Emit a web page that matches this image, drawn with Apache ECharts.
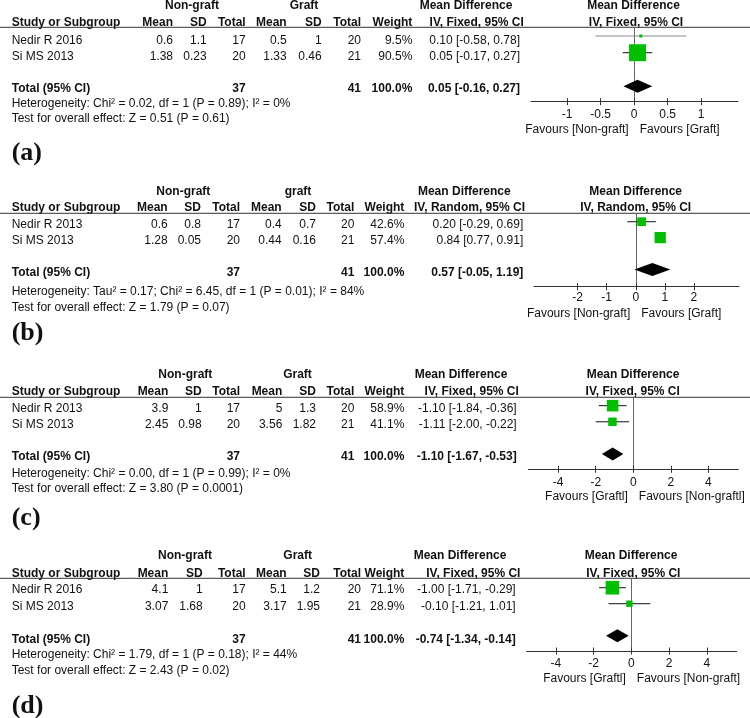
<!DOCTYPE html>
<html>
<head>
<meta charset="utf-8">
<script src="https://cdn.jsdelivr.net/npm/echarts@6/dist/echarts.min.js"></script>
<style>html,body{margin:0;padding:0;background:#fff;}#chart{width:750px;height:718px;}</style>
</head>
<body>
<div id="chart"></div>
<script>
// ---------- DATA ----------
const panelLabels = ['(a)', '(b)', '(c)', '(d)'];
const studyNames = [['Nedir R 2016', 'Si MS 2013'], ['Nedir R 2013', 'Si MS 2013'], ['Nedir R 2013', 'Si MS 2013'], ['Nedir R 2016', 'Si MS 2013']];
const groupLabels = [['Non-graft', 'Graft'], ['Non-graft', 'graft'], ['Non-graft', 'Graft'], ['Non-graft', 'Graft']];
const nonGraftMean = [['0.6', '1.38'], ['0.6', '1.28'], ['3.9', '2.45'], ['4.1', '3.07']];
const nonGraftSD = [['1.1', '0.23'], ['0.8', '0.05'], ['1', '0.98'], ['1', '1.68']];
const nonGraftTotal = [[17, 20], [17, 20], [17, 20], [17, 20]];
const graftMean = [['0.5', '1.33'], ['0.4', '0.44'], ['5', '3.56'], ['5.1', '3.17']];
const graftSD = [['1', '0.46'], ['0.7', '0.16'], ['1.3', '1.82'], ['1.2', '1.95']];
const graftTotal = [[20, 21], [20, 21], [20, 21], [20, 21]];
const weights = [[9.5, 90.5], [42.6, 57.4], [58.9, 41.1], [71.1, 28.9]];
const mdEst = [[0.10, 0.05], [0.20, 0.84], [-1.10, -1.11], [-1.00, -0.10]];
const mdLow = [[-0.58, -0.17], [-0.29, 0.77], [-1.84, -2.00], [-1.71, -1.21]];
const mdHigh = [[0.78, 0.27], [0.69, 0.91], [-0.36, -0.22], [-0.29, 1.01]];
const totalNonGraft = [37, 37, 37, 37];
const totalGraft = [41, 41, 41, 41];
const totalEst = [0.05, 0.57, -1.10, -0.74];
const totalLow = [-0.16, -0.05, -1.67, -1.34];
const totalHigh = [0.27, 1.19, -0.53, -0.14];
const methods = ['IV, Fixed, 95% CI', 'IV, Random, 95% CI', 'IV, Fixed, 95% CI', 'IV, Fixed, 95% CI'];
const heterogeneity = [
  'Heterogeneity: Chi\u00b2 = 0.02, df = 1 (P = 0.89); I\u00b2 = 0%',
  'Heterogeneity: Tau\u00b2 = 0.17; Chi\u00b2 = 6.45, df = 1 (P = 0.01); I\u00b2 = 84%',
  'Heterogeneity: Chi\u00b2 = 0.00, df = 1 (P = 0.99); I\u00b2 = 0%',
  'Heterogeneity: Chi\u00b2 = 1.79, df = 1 (P = 0.18); I\u00b2 = 44%'
];
const overallTests = [
  'Test for overall effect: Z = 0.51 (P = 0.61)',
  'Test for overall effect: Z = 1.79 (P = 0.07)',
  'Test for overall effect: Z = 3.80 (P = 0.0001)',
  'Test for overall effect: Z = 2.43 (P = 0.02)'
];
const tickValues = [[-1, -0.5, 0, 0.5, 1], [-2, -1, 0, 1, 2], [-4, -2, 0, 2, 4], [-4, -2, 0, 2, 4]];
const favoursLeft = ['Favours [Non-graft]', 'Favours [Non-graft]', 'Favours [Graftl]', 'Favours [Graftl]'];
const favoursRight = ['Favours [Graft]', 'Favours [Graft]', 'Favours [Non-graftl]', 'Favours [Non-graft]'];

// ---------- LAYOUT / STYLE ----------
const FONT = '"Liberation Sans", Arial, sans-serif';
const SERIF = '"Liberation Serif", "Times New Roman", serif';
const rowsY = [
  { grp: 6, hdr: 22.7, line: 27.3, rows: [40.7, 56.7], total: 88.3, het: 103.3, test: 118.3, label: 153, axis: 101.7, fav: 130 },
  { grp: 191.7, hdr: 207.3, line: 213.3, rows: [224.3, 241], total: 272.3, het: 291.7, test: 307.7, label: 333.3, axis: 286.7, fav: 313.3 },
  { grp: 375, hdr: 391.7, line: 397.3, rows: [409, 424.3], total: 456.7, het: 473.3, test: 488.3, label: 518.3, axis: 469.3, fav: 496.7 },
  { grp: 556, hdr: 573.3, line: 578.3, rows: [590, 606.7], total: 639.3, het: 655, test: 671, label: 706.7, axis: 651, fav: 678.3 }
];
const colsX = [
  { ngMean: 173, ngSD: 206.7, ngTot: 245.7, gMean: 286.7, gSD: 321.7, gTot: 361, wt: 412.3, md: 520, ngHdr: 192, gHdr: 304, mdHdr1: 466, mdHdr2: 476.7, fHdr1: 633.5, fHdr2: 636 },
  { ngMean: 167.7, ngSD: 201, ngTot: 240, gMean: 281.7, gSD: 316, gTot: 354.3, wt: 404.3, md: 523.3, ngHdr: 183.3, gHdr: 298, mdHdr1: 464.3, mdHdr2: 469.5, fHdr1: 635.7, fHdr2: 635.7 },
  { ngMean: 168.3, ngSD: 201.7, ngTot: 240, gMean: 282.3, gSD: 316, gTot: 354.3, wt: 404.3, md: 516.7, ngHdr: 185.3, gHdr: 297.5, mdHdr1: 461, mdHdr2: 471.7, fHdr1: 633, fHdr2: 632.7 },
  { ngMean: 168.3, ngSD: 202.7, ngTot: 245.7, gMean: 286.7, gSD: 320, gTot: 361, wt: 404.3, md: 515.7, ngHdr: 185, gHdr: 297.7, mdHdr1: 460, mdHdr2: 473.3, fHdr1: 631, fHdr2: 633.3 }
];
const gridCfg = [
  { left: 531, width: 207, xmin: -1.54, xmax: 1.55, ymin: 0.48, ymax: 4.93, margin: 7 },
  { left: 534, width: 205, xmin: -3.5, xmax: 3.55, ymin: 0.47, ymax: 5.09, margin: 4.6 },
  { left: 528.3, width: 210, xmin: -5.59, xmax: 5.59, ymin: 0.48, ymax: 4.95, margin: 7 },
  { left: 526.7, width: 210, xmin: -5.54, xmax: 5.58, ymin: 0.41, ymax: 4.96, margin: 7 }
];
const ciColors = [['#8a8a8a', '#111'], ['#111', '#111'], ['#111', '#111'], ['#111', '#111']];
const SQUARE = '#00bf00';

// ---------- BUILD ----------
const chart = echarts.init(document.getElementById('chart'));
const grids = [], xAxes = [], yAxes = [], series = [], graphics = [];

function txt(x, y, text, align, bold, size, family) {
  graphics.push({
    type: 'text', x: x, y: y, silent: true,
    style: {
      text: String(text), textAlign: align || 'left', textVerticalAlign: 'middle',
      font: (bold ? 'bold ' : '') + (size || 12) + 'px ' + (family || FONT), fill: '#111'
    }
  });
}
function fmtCI(e, l, h) { return e.toFixed(2) + ' [' + l.toFixed(2) + ', ' + h.toFixed(2) + ']'; }

panelLabels.forEach(function (lab, p) {
  const R = rowsY[p], C = colsX[p], G = gridCfg[p];
  // header texts
  txt(C.ngHdr, R.grp, groupLabels[p][0], 'center', true);
  txt(C.gHdr, R.grp, groupLabels[p][1], 'center', true);
  txt(C.mdHdr1, R.grp, 'Mean Difference', 'center', true);
  txt(C.fHdr1, R.grp, 'Mean Difference', 'center', true);
  txt(11.7, R.hdr, 'Study or Subgroup', 'left', true);
  txt(C.ngMean, R.hdr, 'Mean', 'right', true);
  txt(C.ngSD, R.hdr, 'SD', 'right', true);
  txt(C.ngTot, R.hdr, 'Total', 'right', true);
  txt(C.gMean, R.hdr, 'Mean', 'right', true);
  txt(C.gSD, R.hdr, 'SD', 'right', true);
  txt(C.gTot, R.hdr, 'Total', 'right', true);
  txt(C.wt, R.hdr, 'Weight', 'right', true);
  txt(C.mdHdr2, R.hdr, methods[p], 'center', true);
  txt(C.fHdr2, R.hdr, methods[p], 'center', true);
  graphics.push({ type: 'line', silent: true, shape: { x1: 0, y1: R.line, x2: 750, y2: R.line }, style: { stroke: '#333', lineWidth: 1 } });
  // study rows
  studyNames[p].forEach(function (s, i) {
    const y = R.rows[i];
    txt(11.7, y, s, 'left');
    txt(C.ngMean, y, nonGraftMean[p][i], 'right');
    txt(C.ngSD, y, nonGraftSD[p][i], 'right');
    txt(C.ngTot, y, nonGraftTotal[p][i], 'right');
    txt(C.gMean, y, graftMean[p][i], 'right');
    txt(C.gSD, y, graftSD[p][i], 'right');
    txt(C.gTot, y, graftTotal[p][i], 'right');
    txt(C.wt, y, weights[p][i].toFixed(1) + '%', 'right');
    txt(C.md, y, fmtCI(mdEst[p][i], mdLow[p][i], mdHigh[p][i]), 'right');
  });
  // total row
  txt(11.7, R.total, 'Total (95% CI)', 'left', true);
  txt(C.ngTot, R.total, totalNonGraft[p], 'right', true);
  txt(C.gTot, R.total, totalGraft[p], 'right', true);
  txt(C.wt, R.total, '100.0%', 'right', true);
  txt(C.md, R.total, fmtCI(totalEst[p], totalLow[p], totalHigh[p]), 'right', true);
  txt(11.7, R.het, heterogeneity[p], 'left');
  txt(11.7, R.test, overallTests[p], 'left');
  txt(11.7, R.label, lab, 'left', true, 26, SERIF);

  // forest grid
  grids.push({ left: G.left, width: G.width, top: R.line, height: R.axis - R.line, containLabel: false });
  xAxes.push({
    type: 'value', gridIndex: p, min: G.xmin, max: G.xmax, position: 'bottom',
    axisLine: { show: true, onZero: false, lineStyle: { color: '#333', width: 1 } },
    axisTick: { show: true, inside: false, length: 3.5, customValues: tickValues[p], lineStyle: { color: '#333' } },
    axisLabel: { show: true, customValues: tickValues[p], margin: G.margin, color: '#111', fontSize: 12, fontFamily: FONT },
    splitLine: { show: false }
  });
  xAxes.push({
    type: 'value', gridIndex: p, min: G.xmin, max: G.xmax, position: 'bottom',
    axisLine: { show: false, onZero: false },
    axisTick: { show: true, inside: true, length: 3.5, customValues: tickValues[p], lineStyle: { color: '#333' } },
    axisLabel: { show: false }, splitLine: { show: false }
  });
  yAxes.push({
    type: 'value', gridIndex: p, min: G.ymin, max: G.ymax, inverse: true,
    axisLine: { show: true, onZero: true, lineStyle: { color: '#666', width: 1 } },
    axisTick: { show: false }, axisLabel: { show: false }, splitLine: { show: false }
  });
  const data = studyNames[p].map(function (s, i) {
    return [mdEst[p][i], mdLow[p][i], mdHigh[p][i], i + 1, weights[p][i], 0];
  });
  data.push([totalEst[p], totalLow[p], totalHigh[p], studyNames[p].length + 2, 100, 1]);
  series.push({
    type: 'custom', xAxisIndex: p * 2, yAxisIndex: p, clip: false, silent: true,
    encode: { x: [0, 1, 2], y: 3 },
    data: data,
    renderItem: function (params, api) {
      const est = api.value(0), lo = api.value(1), hi = api.value(2), row = api.value(3);
      const kind = api.value(5);
      const a = api.coord([lo, row]), b = api.coord([hi, row]), c = api.coord([est, row]);
      if (kind === 0) {
        const s = 1.4 + 0.172 * api.value(4);
        return {
          type: 'group', children: [
            { type: 'line', shape: { x1: a[0], y1: a[1], x2: b[0], y2: b[1] }, style: { stroke: ciColors[p][params.dataIndex], lineWidth: 1 } },
            { type: 'rect', shape: { x: c[0] - s / 2, y: c[1] - s / 2, width: s, height: s }, style: { fill: SQUARE } }
          ]
        };
      }
      const h = 6.5;
      return {
        type: 'polygon',
        shape: { points: [[a[0], a[1]], [c[0], c[1] - h], [b[0], b[1]], [c[0], c[1] + h]] },
        style: { fill: '#000' }
      };
    }
  });
});

chart.setOption({
  animation: false,
  backgroundColor: '#fff',
  grid: grids, xAxis: xAxes, yAxis: yAxes, series: series
});

// favours labels relative to the zero position of each axis
panelLabels.forEach(function (lab, p) {
  const zero = chart.convertToPixel({ xAxisIndex: p * 2 }, 0);
  txt(zero - 5.5, rowsY[p].fav, favoursLeft[p], 'right');
  txt(zero + 5.5, rowsY[p].fav, favoursRight[p], 'left');
});
chart.setOption({ graphic: { elements: graphics } });
</script>
</body>
</html>
